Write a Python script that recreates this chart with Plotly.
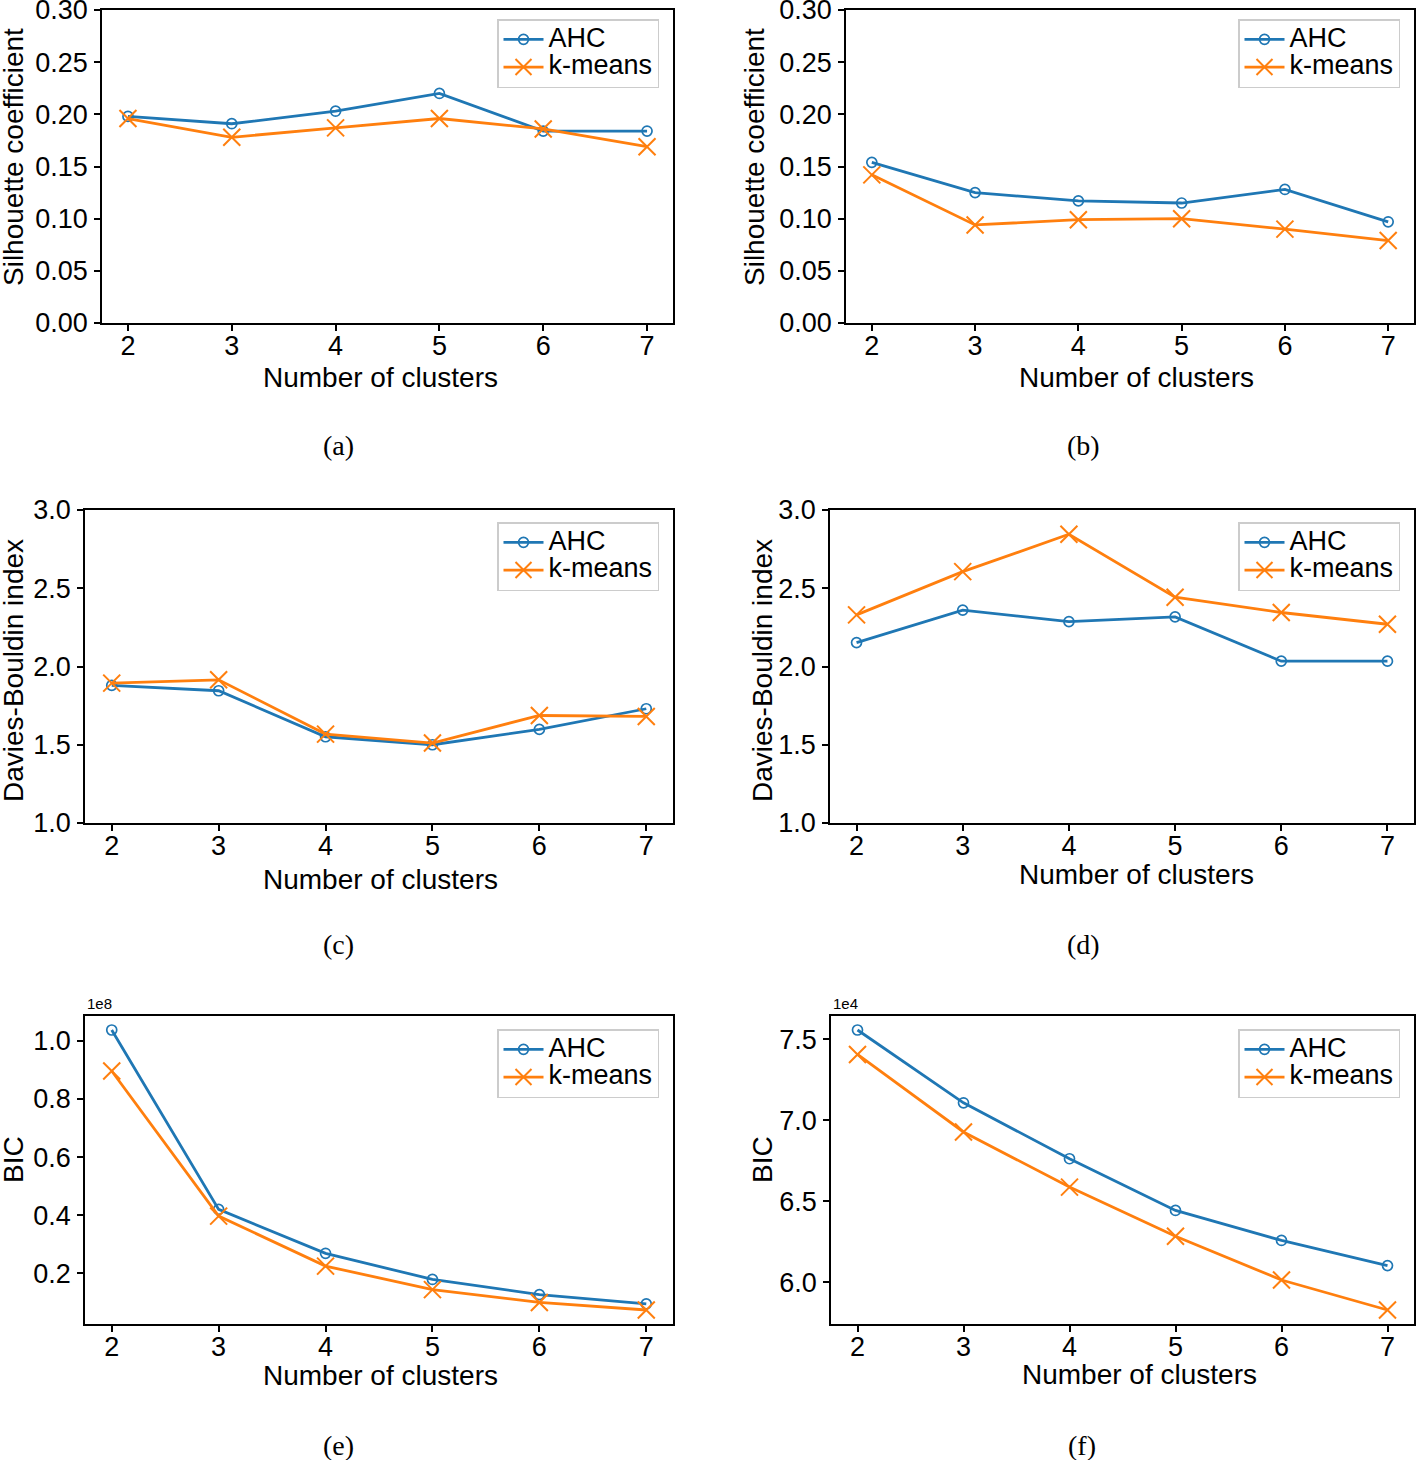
import plotly.graph_objects as go

# ---------------- data ----------------
clusters = [2, 3, 4, 5, 6, 7]

sil_a_ahc = [0.198, 0.191, 0.203, 0.220, 0.184, 0.184]
sil_a_km = [0.196, 0.178, 0.187, 0.196, 0.186, 0.169]

sil_b_ahc = [0.154, 0.125, 0.117, 0.115, 0.128, 0.097]
sil_b_km = [0.142, 0.094, 0.099, 0.100, 0.090, 0.079]

db_c_ahc = [1.879, 1.845, 1.551, 1.500, 1.598, 1.730]
db_c_km = [1.894, 1.915, 1.568, 1.511, 1.687, 1.681]

db_d_ahc = [2.153, 2.360, 2.287, 2.317, 2.034, 2.034]
db_d_km = [2.330, 2.606, 2.845, 2.443, 2.345, 2.270]

bic_e_ahc = [1.037e8, 0.420e8, 0.269e8, 0.179e8, 0.127e8, 0.095e8]
bic_e_km = [0.896e8, 0.397e8, 0.225e8, 0.144e8, 0.100e8, 0.074e8]

bic_f_ahc = [75560, 71070, 67620, 64430, 62580, 61030]
bic_f_km = [74050, 69270, 65870, 62840, 60140, 58290]

series_names = ["AHC", "k-means"]
x_title = "Number of clusters"
captions = ["(a)", "(b)", "(c)", "(d)", "(e)", "(f)"]
y_titles = ["Silhouette coefficient", "Silhouette coefficient",
            "Davies-Bouldin index", "Davies-Bouldin index", "BIC", "BIC"]

# ---------------- layout helpers ----------------
W, H = 1424, 1460
BLUE = "#1f77b4"
ORANGE = "#ff7f0e"
FONT = "Liberation Sans"


def px(x):
    return x / W


def py(y):
    return 1 - y / H


panels = [
    dict(ahc=sil_a_ahc, km=sil_a_km, scale=1, xd=(102, 673), yd=(10, 323),
         yrange=(0, 0.30), dtick=0.05, fmt=".2f", offset=None,
         ytx=13, yty=157, xtx=380, xty=377, capx=338, capy=445, leg=(659, 19)),
    dict(ahc=sil_b_ahc, km=sil_b_km, scale=1, xd=(846, 1414), yd=(10, 323),
         yrange=(0, 0.30), dtick=0.05, fmt=".2f", offset=None,
         ytx=754, yty=157, xtx=1136, xty=377, capx=1083, capy=445, leg=(1400, 19)),
    dict(ahc=db_c_ahc, km=db_c_km, scale=1, xd=(85, 673), yd=(510, 823),
         yrange=(1.0, 3.0), dtick=0.5, fmt=".1f", offset=None,
         ytx=13, yty=671, xtx=380, xty=879, capx=338, capy=944, leg=(659, 522)),
    dict(ahc=db_d_ahc, km=db_d_km, scale=1, xd=(830, 1414), yd=(510, 823),
         yrange=(1.0, 3.0), dtick=0.5, fmt=".1f", offset=None,
         ytx=762, yty=671, xtx=1136, xty=875, capx=1083, capy=944, leg=(1400, 522)),
    dict(ahc=bic_e_ahc, km=bic_e_km, scale=1e8, xd=(85, 673), yd=(1016, 1324),
         yrange=None, dtick=0.2, fmt=".1f", offset="1e8",
         ytx=13, yty=1160, xtx=380, xty=1375, capx=338, capy=1445, leg=(659, 1029)),
    dict(ahc=bic_f_ahc, km=bic_f_km, scale=1e4, xd=(831, 1414), yd=(1016, 1324),
         yrange=None, dtick=0.5, fmt=".1f", offset="1e4",
         ytx=762, yty=1160, xtx=1139, xty=1374, capx=1082, capy=1445, leg=(1400, 1029)),
]

fig = go.Figure()
annotations = []
layout_upd = {}


def leg_label(s):
    return '<span style="font-size:27px">' + s + '</span>'


for i, p in enumerate(panels):
    n = "" if i == 0 else str(i + 1)
    xa, ya = "x" + n, "y" + n
    legname = "legend" + n
    ahc = [v / p["scale"] for v in p["ahc"]]
    km = [v / p["scale"] for v in p["km"]]

    fig.add_trace(go.Scatter(
        x=clusters, y=ahc, name=leg_label(series_names[0]), mode="lines+markers",
        xaxis=xa, yaxis=ya, legend=legname, hoverinfo="x+y",
        line=dict(color=BLUE, width=2.8),
        marker=dict(symbol="circle-open", size=10, color=BLUE,
                    line=dict(color=BLUE, width=1.7))))
    fig.add_trace(go.Scatter(
        x=clusters, y=km, name=leg_label(series_names[1]), mode="lines+markers",
        xaxis=xa, yaxis=ya, legend=legname, hoverinfo="x+y",
        line=dict(color=ORANGE, width=2.8),
        marker=dict(symbol="x-thin-open", size=17, color=ORANGE,
                    line=dict(color=ORANGE, width=2))))

    if p["yrange"] is None:
        lo, hi = min(ahc + km), max(ahc + km)
        span = hi - lo
        yr = [lo - 0.05 * span, hi + 0.05 * span]
    else:
        yr = list(p["yrange"])

    axis_common = dict(showline=True, linecolor="black", linewidth=1.5,
                       mirror=True, ticks="outside", ticklen=6, tickwidth=1.5,
                       tickcolor="black", showgrid=False, zeroline=False,
                       automargin=False, ticklabeloverflow="allow",
                       tickfont=dict(family=FONT, size=27, color="black"))
    layout_upd["xaxis" + n] = dict(
        domain=[px(p["xd"][0]), px(p["xd"][1])], anchor=ya,
        range=[1.75, 7.25], tickmode="array", tickvals=clusters,
        ticktext=[str(c) for c in clusters], ticklabelstandoff=-8, **axis_common)
    layout_upd["yaxis" + n] = dict(
        domain=[py(p["yd"][1]), py(p["yd"][0])], anchor=xa,
        range=yr, tick0=0, dtick=p["dtick"], tickformat=p["fmt"],
        ticklabelstandoff=1, **axis_common)

    layout_upd[legname] = dict(
        x=px(p["leg"][0]), y=py(p["leg"][1]), xanchor="right", yanchor="top",
        xref="paper", yref="paper",
        bgcolor="rgba(255,255,255,0.8)", bordercolor="#cccccc", borderwidth=1.5,
        font=dict(family=FONT, size=19, color="black"), itemwidth=40,
        tracegroupgap=0)

    annotations.append(dict(
        text=y_titles[i], x=px(p["ytx"]), y=py(p["yty"]), xref="paper", yref="paper",
        textangle=-90, showarrow=False, xanchor="center", yanchor="middle",
        font=dict(family=FONT, size=28, color="black")))
    annotations.append(dict(
        text=x_title, x=px(p["xtx"]), y=py(p["xty"]), xref="paper", yref="paper",
        showarrow=False, xanchor="center", yanchor="middle",
        font=dict(family=FONT, size=28, color="black")))
    annotations.append(dict(
        text=captions[i], x=px(p["capx"]), y=py(p["capy"]), xref="paper", yref="paper",
        showarrow=False, xanchor="center", yanchor="middle",
        font=dict(family="Liberation Serif", size=28, color="black")))
    if p["offset"]:
        annotations.append(dict(
            text=p["offset"], x=px(p["xd"][0]), y=py(p["yd"][0] - 2), xref="paper",
            yref="paper", showarrow=False, xanchor="left", yanchor="bottom",
            font=dict(family=FONT, size=15, color="black")))

fig.update_layout(
    width=W, height=H, margin=dict(l=0, r=0, t=0, b=0, autoexpand=False),
    paper_bgcolor="white", plot_bgcolor="white",
    annotations=annotations, **layout_upd)

fig.write_html(
    "out.html",
    config={"displayModeBar": False},
    post_script="document.body.style.margin='0';document.body.style.overflow='hidden';")
